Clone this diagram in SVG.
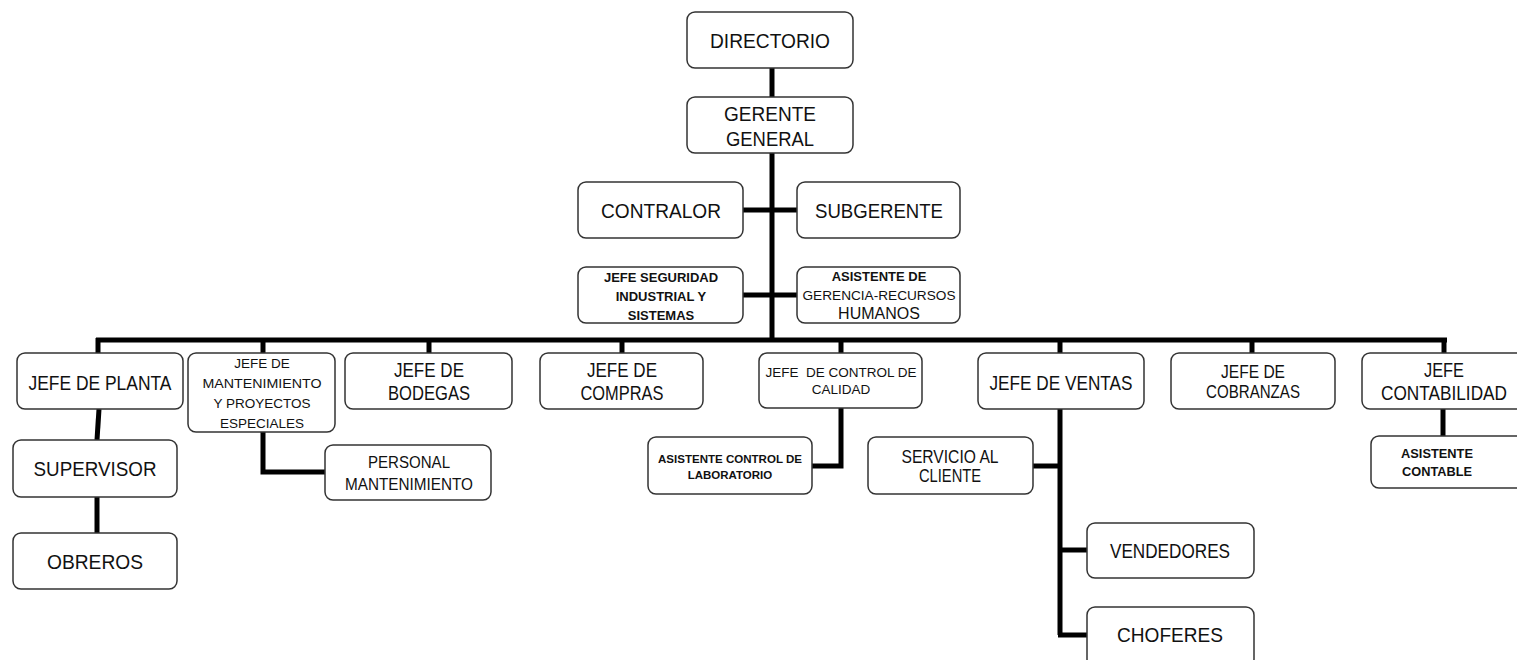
<svg xmlns="http://www.w3.org/2000/svg" width="1517" height="660" viewBox="0 0 1517 660">
<style>
.box{fill:#fff;stroke:#333;stroke-width:1.5}
.t{font-family:"Liberation Sans",Arial,sans-serif;fill:#111;text-anchor:middle}
.l{font-size:21px}
.ml{font-size:18px}
.m{font-size:16px}
.s{font-size:13.5px}
.sb{font-size:13px;font-weight:bold}
.xs{font-size:11.5px;font-weight:bold}
.c{fill:none;stroke:#000;stroke-width:5}
</style>
<rect width="1517" height="660" fill="#fff"/>
<g id="connectors">
<line class="c" x1="772" y1="68" x2="772" y2="97"/>
<line class="c" x1="772" y1="153" x2="772" y2="340"/>
<line class="c" x1="743" y1="210" x2="797" y2="210"/>
<line class="c" x1="743" y1="295" x2="797" y2="295"/>
<line class="c" x1="96" y1="340" x2="1447" y2="340"/>
<line class="c" x1="98" y1="338" x2="98" y2="353"/>
<line class="c" x1="263" y1="338" x2="263" y2="353"/>
<line class="c" x1="429" y1="338" x2="429" y2="353"/>
<line class="c" x1="622" y1="338" x2="622" y2="353"/>
<line class="c" x1="841" y1="338" x2="841" y2="353"/>
<line class="c" x1="1060" y1="338" x2="1060" y2="353"/>
<line class="c" x1="1252" y1="338" x2="1252" y2="353"/>
<line class="c" x1="1444" y1="338" x2="1444" y2="353"/>
<line class="c" x1="99" y1="409" x2="97" y2="440"/>
<line class="c" x1="97" y1="497" x2="97" y2="533"/>
<polyline class="c" points="263,432 263,472 325,472"/>
<polyline class="c" points="841,408 841,466 812,466"/>
<line class="c" x1="1060" y1="409" x2="1060" y2="635"/>
<line class="c" x1="1033" y1="466" x2="1060" y2="466"/>
<line class="c" x1="1060" y1="550" x2="1087" y2="550"/>
<line class="c" x1="1058" y1="635" x2="1087" y2="635"/>
<line class="c" x1="1443" y1="409" x2="1443" y2="436"/>
</g>
<g id="directorio"><rect class="box" x="687" y="12" width="166" height="56" rx="8"/><text class="t l" x="770" y="48" textLength="120" lengthAdjust="spacingAndGlyphs">DIRECTORIO</text></g>
<g id="gerente"><rect class="box" x="687" y="97" width="166" height="56" rx="8"/><text class="t l" x="770" y="121" textLength="92" lengthAdjust="spacingAndGlyphs">GERENTE</text><text class="t l" x="770" y="146" textLength="88" lengthAdjust="spacingAndGlyphs">GENERAL</text></g>
<g id="contralor"><rect class="box" x="578" y="182" width="165" height="56" rx="8"/><text class="t l" x="661" y="218" textLength="120" lengthAdjust="spacingAndGlyphs">CONTRALOR</text></g>
<g id="subgerente"><rect class="box" x="797" y="182" width="163" height="56" rx="8"/><text class="t l" x="879" y="218" textLength="128" lengthAdjust="spacingAndGlyphs">SUBGERENTE</text></g>
<g id="seguridad"><rect class="box" x="578" y="267" width="165" height="56" rx="8"/><text class="t sb" x="661" y="282">JEFE SEGURIDAD</text><text class="t sb" x="661" y="301">INDUSTRIAL Y</text><text class="t sb" x="661" y="320">SISTEMAS</text></g>
<g id="asistente-gerencia"><rect class="box" x="797" y="267" width="163" height="56" rx="8"/><text class="t sb" x="879" y="281">ASISTENTE DE</text><text class="t s" x="879" y="300" textLength="153" lengthAdjust="spacingAndGlyphs">GERENCIA-RECURSOS</text><text class="t m" x="879" y="319">HUMANOS</text></g>
<g id="planta"><rect class="box" x="17" y="353" width="166" height="56" rx="8"/><text class="t l" x="100" y="390" textLength="143" lengthAdjust="spacingAndGlyphs">JEFE DE PLANTA</text></g>
<g id="supervisor"><rect class="box" x="13" y="440" width="164" height="57" rx="8"/><text class="t l" x="95" y="476" textLength="123" lengthAdjust="spacingAndGlyphs">SUPERVISOR</text></g>
<g id="obreros"><rect class="box" x="13" y="533" width="164" height="56" rx="8"/><text class="t l" x="95" y="569" textLength="96" lengthAdjust="spacingAndGlyphs">OBREROS</text></g>
<g id="mantenimiento"><rect class="box" x="188" y="353" width="147" height="79" rx="8"/><text class="t s" x="262" y="368">JEFE DE</text><text class="t s" x="262" y="388" textLength="119" lengthAdjust="spacingAndGlyphs">MANTENIMIENTO</text><text class="t s" x="262" y="408">Y PROYECTOS</text><text class="t s" x="262" y="428">ESPECIALES</text></g>
<g id="personal"><rect class="box" x="325" y="445" width="166" height="55" rx="8"/><text class="t m" x="409" y="468" textLength="82" lengthAdjust="spacingAndGlyphs">PERSONAL</text><text class="t m" x="409" y="490" textLength="128" lengthAdjust="spacingAndGlyphs">MANTENIMIENTO</text></g>
<g id="bodegas"><rect class="box" x="345" y="353" width="167" height="56" rx="8"/><text class="t l" x="429" y="377" textLength="70" lengthAdjust="spacingAndGlyphs">JEFE DE</text><text class="t l" x="429" y="400" textLength="82" lengthAdjust="spacingAndGlyphs">BODEGAS</text></g>
<g id="compras"><rect class="box" x="540" y="353" width="163" height="56" rx="8"/><text class="t l" x="622" y="377" textLength="70" lengthAdjust="spacingAndGlyphs">JEFE DE</text><text class="t l" x="622" y="400" textLength="83" lengthAdjust="spacingAndGlyphs">COMPRAS</text></g>
<g id="calidad"><rect class="box" x="759" y="353" width="163" height="55" rx="8"/><text class="t s" x="841" y="377" xml:space="preserve" textLength="151" lengthAdjust="spacingAndGlyphs">JEFE  DE CONTROL DE</text><text class="t s" x="841" y="394">CALIDAD</text></g>
<g id="laboratorio"><rect class="box" x="648" y="437" width="164" height="57" rx="8"/><text class="t xs" x="730" y="463" textLength="144" lengthAdjust="spacingAndGlyphs">ASISTENTE CONTROL DE</text><text class="t xs" x="730" y="479">LABORATORIO</text></g>
<g id="ventas"><rect class="box" x="978" y="353" width="166" height="56" rx="8"/><text class="t l" x="1061" y="390" textLength="143" lengthAdjust="spacingAndGlyphs">JEFE DE VENTAS</text></g>
<g id="servicio"><rect class="box" x="868" y="437" width="165" height="57" rx="8"/><text class="t ml" x="950" y="463" textLength="97" lengthAdjust="spacingAndGlyphs">SERVICIO AL</text><text class="t ml" x="950" y="482" textLength="62" lengthAdjust="spacingAndGlyphs">CLIENTE</text></g>
<g id="vendedores"><rect class="box" x="1087" y="523" width="167" height="55" rx="8"/><text class="t l" x="1170" y="558" textLength="120" lengthAdjust="spacingAndGlyphs">VENDEDORES</text></g>
<g id="choferes"><rect class="box" x="1087" y="607" width="167" height="60" rx="8"/><text class="t l" x="1170" y="642" textLength="106" lengthAdjust="spacingAndGlyphs">CHOFERES</text></g>
<g id="cobranzas"><rect class="box" x="1171" y="353" width="164" height="56" rx="8"/><text class="t ml" x="1253" y="378" textLength="64" lengthAdjust="spacingAndGlyphs">JEFE DE</text><text class="t ml" x="1253" y="398" textLength="94" lengthAdjust="spacingAndGlyphs">COBRANZAS</text></g>
<g id="contabilidad"><rect class="box" x="1362" y="353" width="170" height="56" rx="8"/><text class="t l" x="1444" y="377" textLength="40" lengthAdjust="spacingAndGlyphs">JEFE</text><text class="t l" x="1444" y="400" textLength="126" lengthAdjust="spacingAndGlyphs">CONTABILIDAD</text></g>
<g id="asistente-contable"><rect class="box" x="1371" y="436" width="165" height="52" rx="8"/><text class="t sb" x="1437" y="458" textLength="72" lengthAdjust="spacingAndGlyphs">ASISTENTE</text><text class="t sb" x="1437" y="476" textLength="70" lengthAdjust="spacingAndGlyphs">CONTABLE</text></g>
</svg>
